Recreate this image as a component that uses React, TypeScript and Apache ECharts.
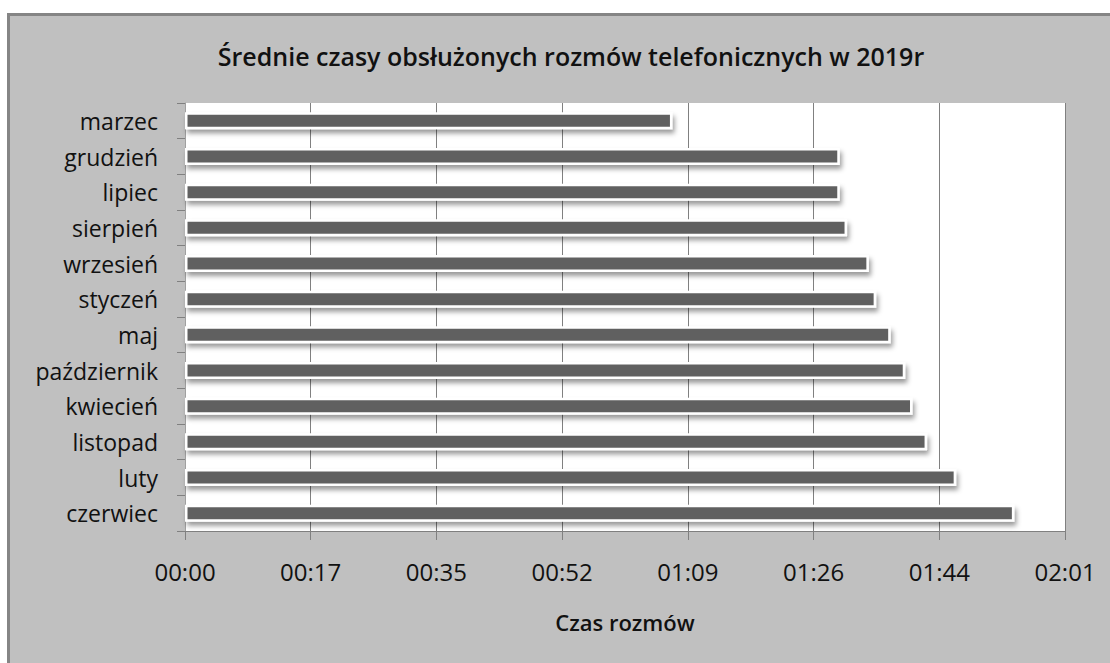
import React, { useEffect, useRef } from "react";
import * as echarts from "echarts";

const titleText = "Średnie czasy obsłużonych rozmów telefonicznych w 2019r";
const axisName = "Czas rozmów";
const months = [
  "marzec",
  "grudzień",
  "lipiec",
  "sierpień",
  "wrzesień",
  "styczeń",
  "maj",
  "październik",
  "kwiecień",
  "listopad",
  "luty",
  "czerwiec",
];
// average call duration in seconds
const seconds = [67, 90, 90, 91, 94, 95, 97, 99, 100, 102, 106, 114];
// Excel axis unit: 0.0002 day = 17.28 s
const tickStep = 17.28;
const tickCount = 7;

function fmt(v: number): string {
  const s = Math.round(v);
  const m = Math.floor(s / 60);
  const r = s % 60;
  return String(m).padStart(2, "0") + ":" + String(r).padStart(2, "0");
}

export default function App() {
  const ref = useRef<HTMLDivElement>(null);
  useEffect(() => {
    if (!ref.current) return;
    const chart = echarts.init(ref.current, undefined, { renderer: "svg" });
    const font = "'Open Sans', sans-serif";
    chart.setOption({
      animation: false,
      backgroundColor: "transparent",
      title: {
        text: titleText,
        left: 566,
        top: 38,
        textAlign: "center",
        textStyle: {
          fontFamily: font,
          fontSize: 25,
          fontWeight: 600,
          color: "#111",
        },
      },
      grid: {
        left: 185,
        right: 45,
        top: 103,
        bottom: 132,
        show: true,
        backgroundColor: "#ffffff",
        borderWidth: 0,
        containLabel: false,
      },
      xAxis: {
        type: "value",
        min: 0,
        max: tickStep * tickCount,
        interval: tickStep,
        name: axisName,
        nameLocation: "middle",
        nameGap: 80,
        nameTextStyle: {
          fontFamily: font,
          fontSize: 22,
          fontWeight: 600,
          color: "#111",
        },
        axisLine: { show: true, lineStyle: { color: "#808080", width: 1 } },
        axisTick: { show: true, length: 9, lineStyle: { color: "#808080" } },
        splitLine: { show: true, lineStyle: { color: "#808080", width: 1 } },
        axisLabel: {
          formatter: (v: number) => fmt(v),
          fontFamily: font,
          fontSize: 24,
          color: "#111",
          margin: 28,
          showMaxLabel: true,
          showMinLabel: true,
        },
      },
      yAxis: {
        type: "category",
        data: months,
        inverse: true,
        axisLine: { show: true, lineStyle: { color: "#a0a0a0", width: 1 } },
        axisTick: {
          show: true,
          length: 8,
          alignWithLabel: false,
          lineStyle: { color: "#808080" },
        },
        splitLine: { show: false },
        axisLabel: {
          fontFamily: font,
          fontSize: 23,
          color: "#111",
          margin: 27,
        },
      },
      series: [
        {
          type: "bar",
          data: seconds,
          barWidth: 17,
          itemStyle: {
            color: "#606060",
            borderColor: "#ffffff",
            borderWidth: 2.5,
            shadowBlur: 5,
            shadowOffsetX: 2,
            shadowOffsetY: 4,
            shadowColor: "rgba(0,0,0,0.4)",
          },
        },
      ],
    });
    return () => chart.dispose();
  }, []);
  return (
    <div
      style={{
        position: "fixed",
        left: 0,
        top: 0,
        width: 1110,
        height: 663,
        background: "#ffffff",
        overflow: "hidden",
      }}
    >
      <div
        style={{
          position: "absolute",
          left: 7,
          top: 13,
          width: 1200,
          height: 800,
          background: "#c0c0c0",
          borderLeft: "3px solid #858585",
          borderTop: "3px solid #858585",
        }}
      />
      <div
        ref={ref}
        style={{ position: "absolute", left: 0, top: 0, width: 1110, height: 663 }}
      />
    </div>
  );
}
